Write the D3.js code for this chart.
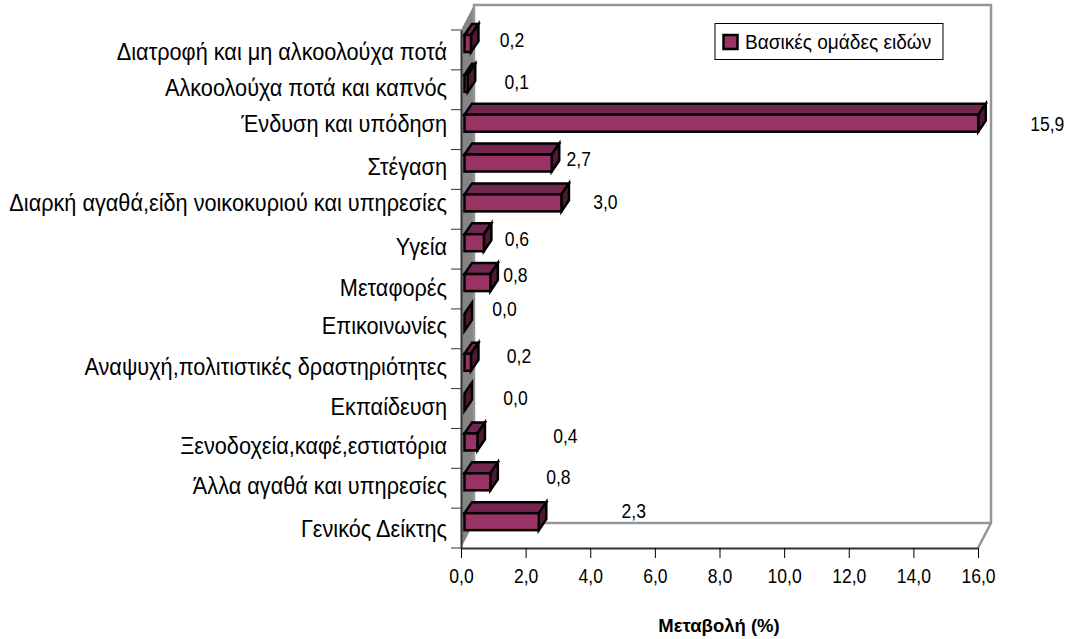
<!DOCTYPE html>
<html>
<head>
<meta charset="utf-8">
<script src="https://cdn.jsdelivr.net/npm/d3@7"></script>
<style>
  html, body { margin: 0; padding: 0; background: #fff; }
  svg { display: block; }
  text { font-family: 'Liberation Sans', Arial, sans-serif; fill: #000; }
</style>
</head>
<body>
<div id="chart"></div>
<script>
// Data
const categories = [
  'Διατροφή και μη αλκοολούχα ποτά',
  'Αλκοολούχα ποτά και καπνός',
  'Ένδυση και υπόδηση',
  'Στέγαση',
  'Διαρκή αγαθά,είδη νοικοκυριού και υπηρεσίες',
  'Υγεία',
  'Μεταφορές',
  'Επικοινωνίες',
  'Αναψυχή,πολιτιστικές δραστηριότητες',
  'Εκπαίδευση',
  'Ξενοδοχεία,καφέ,εστιατόρια',
  'Άλλα αγαθά και υπηρεσίες',
  'Γενικός Δείκτης'
];
const values = [0.2, 0.1, 15.9, 2.7, 3.0, 0.6, 0.8, 0.0, 0.2, 0.0, 0.4, 0.8, 2.3];
const valueTicks = [0, 2, 4, 6, 8, 10, 12, 14, 16];
const seriesName = 'Βασικές ομάδες ειδών';
const axisTitle = 'Μεταβολή (%)';

// hand placed labels in the original: [dx from bar end, dy from band top]
const labelNudge = [
  [41, 10], [49, 12], [69, 14], [27, 9], [44, 13], [33, 10], [25, 6], [40, 0],
  [48, 7], [51, 9], [88, 8], [68, 9], [95, 3]
];
const catNudge = [2, -2, -6, -2, -6, -2, -1, -3, -2, -2, -2, -2, 1];

const fmt = (v) => v.toFixed(1).replace('.', ',');

// the original text is a bit taller than it is wide, squeeze it horizontally
const squeeze = (sel, k) =>
  sel.each(function () {
    const len = this.getComputedTextLength();
    d3.select(this).attr('textLength', len * k).attr('lengthAdjust', 'spacingAndGlyphs');
  });

const width = 1069;
const height = 639;
const plot = { l: 461, r: 978, t: 30, b: 548 };
const depth = { x: 13, y: -25 }; // wall offset
const bar = { inset: 3.5, top: 5, h: 17, dx: 7.5, dy: -11 };

const svg = d3
  .select('#chart')
  .append('svg')
  .attr('width', width)
  .attr('height', height);

const x = d3.scaleLinear([0, 16], [plot.l, plot.r]);
const y = d3.scaleBand(categories, [plot.t, plot.b]);

// walls
const wallColor = '#969696';
const line = d3.line();
svg
  .append('path')
  .attr('d', line([
    [plot.l, plot.t],
    [plot.l + depth.x, plot.t + depth.y],
    [plot.l + depth.x, plot.b + depth.y],
    [plot.l, plot.b]
  ]) + 'Z')
  .attr('fill', '#858585');
svg
  .append('path')
  .attr('d', line([
    [plot.l + depth.x, plot.b + depth.y],
    [plot.l + depth.x, plot.t + depth.y],
    [plot.r + depth.x, plot.t + depth.y],
    [plot.r + depth.x, plot.b + depth.y],
    [plot.r, plot.b]
  ]))
  .attr('fill', 'none')
  .attr('stroke', wallColor)
  .attr('stroke-width', 2.5);
svg
  .append('path')
  .attr('d', line([
    [plot.l + depth.x, plot.b + depth.y],
    [plot.r + depth.x, plot.b + depth.y]
  ]))
  .attr('stroke', wallColor)
  .attr('stroke-width', 2.5);

// value axis
const xAxis = svg
  .append('g')
  .attr('transform', `translate(0, ${plot.b})`)
  .call(
    d3.axisBottom(x)
      .tickValues(valueTicks)
      .tickFormat(fmt)
      .tickSize(10)
      .tickSizeOuter(0)
  );
xAxis.select('.domain').attr('stroke', '#333').attr('stroke-width', 2);
xAxis.selectAll('.tick line').attr('stroke', '#000').attr('stroke-width', 1);
xAxis
  .selectAll('text')
  .attr('y', 21)
  .attr('font-size', 19.5)
  .attr('font-family', "'Liberation Sans', Arial, sans-serif")
  .call(squeeze, 0.9);

// category axis, ticks sit on the band edges
const yAxis = svg
  .append('g')
  .attr('transform', `translate(${plot.l}, 0)`)
  .call(d3.axisLeft(y).tickSize(0).tickPadding(14));
yAxis.select('.domain').attr('stroke', '#333').attr('stroke-width', 2);
yAxis
  .selectAll('text')
  .attr('font-size', 23)
  .attr('font-family', "'Liberation Sans', Arial, sans-serif")
  .attr('dy', (d, i) => 8 + catNudge[i])
  .call(squeeze, 0.943);
svg
  .append('g')
  .selectAll('line')
  .data(categories.concat(['end']))
  .join('line')
  .attr('x1', plot.l - 10)
  .attr('x2', plot.l)
  .attr('y1', (d) => (d === 'end' ? plot.b : y(d)))
  .attr('y2', (d) => (d === 'end' ? plot.b : y(d)))
  .attr('stroke', '#333');

// bars
const bars = svg
  .append('g')
  .selectAll('g')
  .data(categories)
  .join('g')
  .attr('stroke', '#000')
  .attr('stroke-width', 2.5)
  .attr('stroke-linejoin', 'miter');

const barPts = (i) => {
  const x0 = x(0) + bar.inset;
  const x1 = x(values[i]) + bar.inset;
  const y0 = y(categories[i]) + bar.top;
  return { x0, x1, y0, y1: y0 + bar.h };
};

bars
  .append('path')
  .attr('fill', '#732650')
  .attr('d', (d, i) => {
    const p = barPts(i);
    return line([
      [p.x0, p.y0],
      [p.x0 + bar.dx, p.y0 + bar.dy],
      [p.x1 + bar.dx, p.y0 + bar.dy],
      [p.x1, p.y0]
    ]) + 'Z';
  });
bars
  .append('path')
  .attr('fill', '#4d1a33')
  .attr('d', (d, i) => {
    const p = barPts(i);
    return line([
      [p.x1, p.y0],
      [p.x1 + bar.dx, p.y0 + bar.dy],
      [p.x1 + bar.dx, p.y1 + bar.dy],
      [p.x1, p.y1]
    ]) + 'Z';
  });
bars
  .append('rect')
  .attr('fill', '#993366')
  .attr('x', (d, i) => barPts(i).x0)
  .attr('y', (d, i) => barPts(i).y0)
  .attr('width', (d, i) => barPts(i).x1 - barPts(i).x0)
  .attr('height', bar.h);

// value labels
svg
  .append('g')
  .selectAll('text')
  .data(values)
  .join('text')
  .attr('x', (d, i) => x(d) + bar.inset + labelNudge[i][0])
  .attr('y', (d, i) => y(categories[i]) + labelNudge[i][1] + 7)
  .attr('text-anchor', 'middle')
  .attr('font-size', 19.5)
  .text(fmt)
  .call(squeeze, 0.9);

// axis title
svg
  .append('text')
  .attr('x', 719)
  .attr('y', 632)
  .attr('text-anchor', 'middle')
  .attr('font-size', 18.5)
  .attr('font-weight', 'bold')
  .text(axisTitle);

// legend
const legend = svg.append('g');
legend
  .append('rect')
  .attr('x', 715)
  .attr('y', 23.5)
  .attr('width', 228)
  .attr('height', 36)
  .attr('fill', '#fff')
  .attr('stroke', '#000');
legend
  .append('rect')
  .attr('x', 723.5)
  .attr('y', 35)
  .attr('width', 14)
  .attr('height', 14)
  .attr('fill', '#993366')
  .attr('stroke', '#000')
  .attr('stroke-width', 2.5);
legend
  .append('text')
  .attr('x', 745)
  .attr('y', 48.5)
  .attr('font-size', 20.5)
  .text(seriesName)
  .call(squeeze, 0.93);
</script>
</body>
</html>
